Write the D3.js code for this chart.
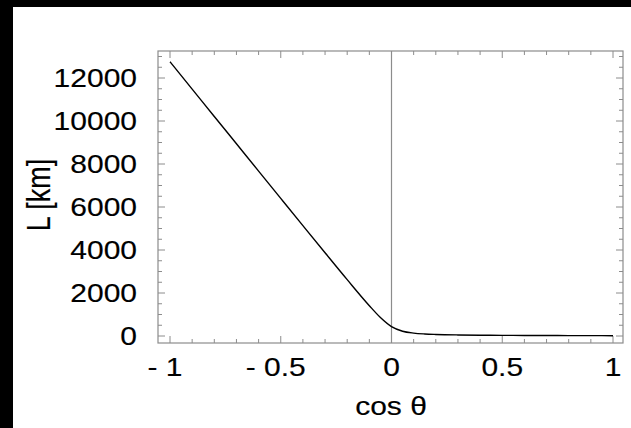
<!DOCTYPE html>
<html><head><meta charset="utf-8">
<script src="https://cdn.jsdelivr.net/npm/d3@7"></script>
<style>html,body{margin:0;padding:0;background:#fff;}svg{display:block;}</style>
</head><body><svg id="c" width="631" height="428"></svg>
<script>
// data
const cosTheta = [-1,-0.9,-0.8,-0.7,-0.6,-0.5,-0.4,-0.3,-0.2,-0.1,-0.05,0,0.05,0.1,0.15,0.2,0.3,0.4,0.5,0.6,0.7,0.8,0.9,1];
const lengthKm = [12757,11485,10212,8941,7670,6401,5134,3872,2621,1410,860,437,223,136,95,73,49,37,30,25,21,19,17,15];
const xTickValues = [-1,-0.5,0,0.5,1];
const xTickLabels = ["- 1","- 0.5","0","0.5","1"];
const yTickValues = [0,2000,4000,6000,8000,10000,12000];
const yTickLabels = ["0","2000","4000","6000","8000","10000","12000"];
const xTitle = "cos \u03b8";
const yTitle = "L [km]";

const svg = d3.select("#c");
svg.append("rect").attr("width",631).attr("height",428).attr("fill","#fff");
svg.append("rect").attr("x",0).attr("y",0).attr("width",631).attr("height",7).attr("fill","#000");
svg.append("rect").attr("x",0).attr("y",0).attr("width",13).attr("height",428).attr("fill","#000");

const L=158,R=623,T=51,B=343;
const x = d3.scaleLinear().domain([-1,1]).range([170,613]);
const y = d3.scaleLinear().domain([0,12000]).range([336,78]);
const gray="#8c8c8c";
const g = svg.append("g");

// minor/major ticks
const xMinor = d3.range(-10,11).map(i=>i/10);
const yMinor = d3.range(0,27).map(i=>i*500);
xMinor.forEach(v=>{
  const major = Math.abs(v*2-Math.round(v*2))<1e-9;
  const len = major?7:4;
  g.append("line").attr("x1",x(v)).attr("x2",x(v)).attr("y1",B).attr("y2",B-len).attr("stroke",gray).attr("stroke-width",1);
  g.append("line").attr("x1",x(v)).attr("x2",x(v)).attr("y1",T).attr("y2",T+len).attr("stroke",gray).attr("stroke-width",1);
});
yMinor.forEach(v=>{
  if (y(v)<T) return;
  const major = v%2000===0;
  const len = major?7:4;
  g.append("line").attr("x1",L).attr("x2",L+len).attr("y1",y(v)).attr("y2",y(v)).attr("stroke",gray).attr("stroke-width",1);
  g.append("line").attr("x1",R).attr("x2",R-len).attr("y1",y(v)).attr("y2",y(v)).attr("stroke",gray).attr("stroke-width",1);
});
// frame
g.append("rect").attr("x",L).attr("y",T).attr("width",R-L).attr("height",B-T).attr("fill","none").attr("stroke",gray).attr("stroke-width",1.2);
// vertical line at 0
g.append("line").attr("x1",x(0)).attr("x2",x(0)).attr("y1",T).attr("y2",B).attr("stroke",gray).attr("stroke-width",1.2);

// curve
const line = d3.line().x((d,i)=>x(cosTheta[i])).y(d=>y(d)).curve(d3.curveMonotoneX);
g.append("path").datum(lengthKm).attr("d",line).attr("fill","none").attr("stroke","#000").attr("stroke-width",1.4);

const font = "Liberation Sans, Arial, Helvetica, sans-serif";
function txt(sel){ return sel.attr("font-family",font).attr("fill","#000").attr("stroke","#000").attr("stroke-width",0.15); }
// x tick labels
xTickValues.forEach((v,i)=>{
  const lab = xTickLabels[i];
  const cx = x(v) - (lab.startsWith("-")?5:0);
  txt(svg.append("text").attr("transform",`translate(${cx},376) scale(1.2,1)`)
    .attr("text-anchor","middle").attr("font-size",25)).text(lab);
});
// y tick labels
yTickValues.forEach((v,i)=>{
  txt(svg.append("text").attr("transform",`translate(137,${y(v)+9}) scale(1.2,1)`)
    .attr("text-anchor","end").attr("font-size",25)).text(yTickLabels[i]);
});
// titles
txt(svg.append("text").attr("transform","translate(391,415) scale(1.2,1)").attr("text-anchor","middle")
  .attr("font-size",25)).text(xTitle);
txt(svg.append("text").attr("transform","translate(50,195) rotate(-90) scale(1,1.2)").attr("text-anchor","middle")
  .attr("font-size",27)).text(yTitle);
</script></body></html>
